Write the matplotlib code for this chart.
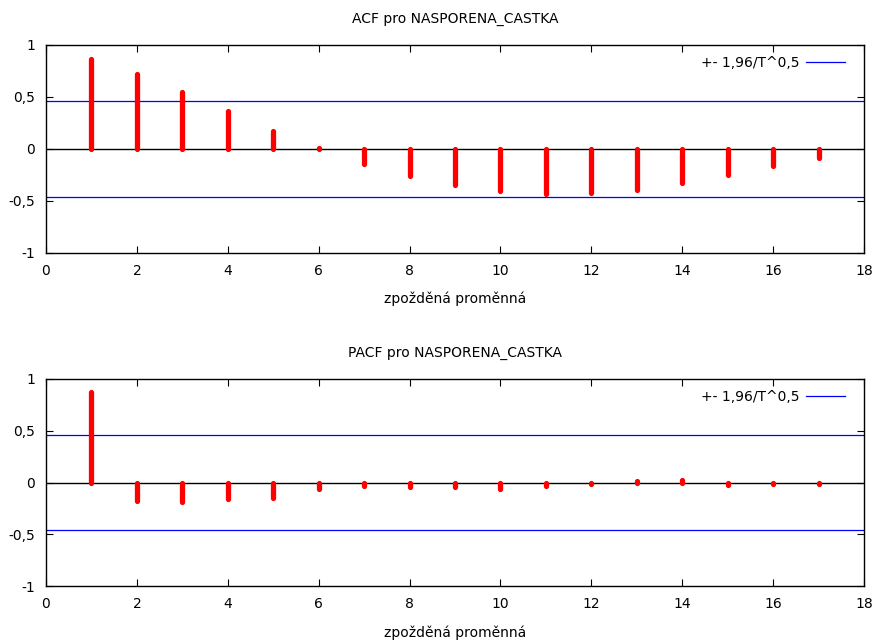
import matplotlib
matplotlib.use("Agg")
import matplotlib.pyplot as plt
from matplotlib.lines import Line2D

lags = list(range(1, 18))
acf_values = [0.87, 0.724, 0.551, 0.365, 0.173, 0.008, -0.144, -0.263, -0.349,
              -0.407, -0.433, -0.426, -0.391, -0.327, -0.25, -0.163, -0.084]
pacf_values = [0.872, -0.181, -0.193, -0.164, -0.149, -0.062, -0.033, -0.045, -0.048,
               -0.062, -0.035, -0.015, 0.012, 0.025, -0.02, -0.011, -0.011]
conf_bound = 0.462
titles = ["ACF pro NASPORENA_CASTKA", "PACF pro NASPORENA_CASTKA"]
xlabel = "zpožděná proměnná"
legend_label = "+- 1,96/T^0,5"
xticks = [0, 2, 4, 6, 8, 10, 12, 14, 16, 18]
yticks = [-1, -0.5, 0, 0.5, 1]
ytick_labels = ["-1", "-0,5", "0", "0,5", "1"]

plt.rcParams['font.family'] = ['DejaVu Sans']
fig = plt.figure(figsize=(8.76, 6.41), dpi=100)
W, H = 876, 641
boxes = [(46, 45, 864, 253), (46, 379, 864, 586)]

for (l, t, r, b), title, vals in zip(boxes, titles, [acf_values, pacf_values]):
    ax = fig.add_axes([l / W, 1 - b / H, (r - l) / W, (b - t) / H])
    ax.set_xlim(0, 18)
    ax.set_ylim(-1, 1)
    ax.axhline(0, color='black', lw=1.0, zorder=1)
    ax.axhline(conf_bound, color='blue', lw=0.9, zorder=1)
    ax.axhline(-conf_bound, color='blue', lw=0.9, zorder=1)
    for x, v in zip(lags, vals):
        ax.plot([x, x], [0, v], color='red', lw=3.8, solid_capstyle='round', zorder=3)
    ax.set_xticks(xticks)
    ax.set_yticks(yticks)
    ax.set_yticklabels(ytick_labels)
    ax.tick_params(direction='in', top=True, right=True, length=5, width=0.8,
                   labelsize=10, pad=8, colors='black')
    for s in ax.spines.values():
        s.set_linewidth(1.0)
    ax.set_title(title, fontsize=10, pad=16)
    ax.set_xlabel(xlabel, fontsize=10, labelpad=10)
    handle = Line2D([0], [0], color='blue', lw=0.9)
    ax.legend([handle], [legend_label], loc='upper right', frameon=False,
              fontsize=10, markerfirst=False, handlelength=2.8,
              borderaxespad=0.3, handletextpad=0.5,
              bbox_to_anchor=(0.989, 0.995))

fig.savefig("out.png", dpi=100)
